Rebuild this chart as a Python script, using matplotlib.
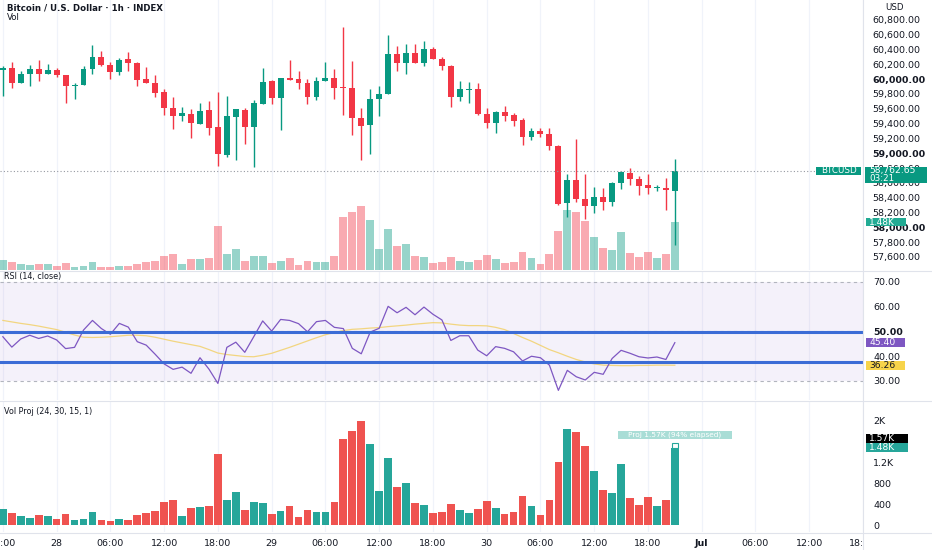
import numpy as np
import pandas as pd
import matplotlib
matplotlib.use("Agg")
import matplotlib.pyplot as plt
from matplotlib.patches import Rectangle
from matplotlib.transforms import IdentityTransform, Bbox

# BTC / USD hourly candles, 27 Jun 18:00 -> 30 Jun 21:00
opens = [60120, 60151, 59944, 60070, 60142, 60075, 60129, 60057, 59903, 59926,
         60142, 60295, 60187, 60097, 60268, 60223, 60003, 59949, 59822, 59611,
         59507, 59530, 59399, 59579, 59358, 58980, 59494, 59579, 59358, 59669,
         59971, 59750, 60021, 60003, 59949, 59755, 59980, 60012, 59885, 59881,
         59476, 59376, 59728, 59795, 60336, 60214, 60349, 60214, 60408, 60273,
         60178, 59759, 59854, 59867, 59534, 59404, 59561, 59512, 59449, 59223,
         59300, 59255, 59102, 58332, 58638, 58381, 58291, 58408, 58345, 58597,
         58732, 58656, 58570, 58530, 58530, 58494]
highs = [60178, 60237, 60111, 60192, 60255, 60205, 60147, 60061, 59944, 60183,
         60466, 60385, 60232, 60282, 60372, 60237, 60169, 60052, 59863, 59764,
         59624, 59597, 59683, 59710, 59827, 59768, 59602, 59606, 59719, 60147,
         59989, 60021, 60255, 60106, 60003, 60025, 60237, 60142, 60710, 60246,
         59611, 59863, 59908, 60602, 60444, 60480, 60480, 60512, 60435, 60304,
         60192, 59976, 59967, 59953, 59606, 59570, 59638, 59548, 59471, 59340,
         59340, 59336, 59111, 58719, 59192, 58719, 58548, 58525, 58611, 58755,
         58795, 58692, 58719, 58570, 58660, 58922]
lows = [59777, 59876, 59944, 59912, 59980, 60075, 60025, 59683, 59732, 59926,
        60070, 60174, 60003, 60052, 60115, 59912, 59949, 59755, 59516, 59327,
        59431, 59201, 59399, 59250, 58832, 58944, 58913, 59129, 58818, 59669,
        59669, 59313, 59989, 59863, 59665, 59719, 59980, 59728, 59521, 59250,
        58913, 58994, 59498, 59795, 60111, 60075, 60214, 60183, 60273, 60124,
        59620, 59705, 59674, 59521, 59345, 59277, 59440, 59372, 59115, 59174,
        59223, 59043, 58305, 58142, 58345, 58115, 58187, 58237, 58287, 58516,
        58570, 58435, 58449, 58485, 58237, 57760]
closes = [60156, 59953, 60070, 60138, 60075, 60129, 60052, 59903, 59921, 60142,
          60295, 60187, 60097, 60259, 60219, 59994, 59949, 59813, 59606, 59503,
          59539, 59404, 59570, 59345, 58989, 59498, 59593, 59358, 59674, 59962,
          59746, 60016, 59989, 59944, 59755, 59980, 60012, 59881, 59876, 59480,
          59372, 59732, 59800, 60336, 60214, 60349, 60214, 60408, 60273, 60174,
          59759, 59863, 59867, 59530, 59404, 59557, 59507, 59440, 59223, 59300,
          59259, 59102, 58314, 58638, 58386, 58287, 58408, 58345, 58602, 58746,
          58656, 58561, 58530, 58539, 58498, 58762.65]
volumes = [305, 235, 178, 146, 197, 171, 121, 216, 102, 127,
           248, 102, 89, 121, 108, 190, 235, 267, 444, 483,
           178, 337, 349, 368, 1359, 489, 635, 292, 438, 432,
           210, 273, 368, 152, 292, 254, 254, 444, 1638, 1797,
           1988, 1549, 648, 1276, 730, 806, 432, 394, 229, 254,
           413, 286, 238, 305, 464, 337, 210, 248, 552, 375,
           197, 483, 1207, 1835, 1778, 1511, 1029, 667, 616, 1168,
           521, 394, 540, 362, 483, 1480]
rsi = [47.8, 43.6, 46.9, 48.4, 47.1, 48.1, 46.5, 43.0, 43.5, 50.5,
       54.4, 51.1, 48.8, 53.2, 51.7, 45.8, 44.4, 40.7, 36.8, 34.6,
       35.5, 33.0, 39.3, 34.7, 28.9, 43.5, 45.6, 41.5, 47.8, 54.2,
       50.1, 54.8, 54.4, 53.1, 49.8, 53.9, 54.4, 51.6, 51.1, 43.1,
       40.9, 49.7, 51.2, 60.1, 57.5, 59.7, 56.7, 59.8, 56.9, 54.6,
       46.3, 48.2, 48.2, 42.4, 40.1, 43.8, 43.1, 41.7, 38.0, 39.9,
       39.3, 36.3, 26.1, 34.2, 31.6, 30.3, 33.4, 32.6, 39.0, 42.3,
       41.1, 39.7, 39.2, 39.6, 38.6, 45.4]
rsi_ma = [54.4, 53.8, 53.2, 52.7, 52.1, 51.4, 50.7, 49.6, 48.5, 47.6,
          47.5, 47.6, 47.8, 48.1, 48.4, 48.4, 48.2, 47.6, 46.8, 46.0,
          45.3, 44.6, 43.9, 42.6, 41.2, 40.6, 40.2, 39.8, 39.7, 40.3,
          41.1, 42.3, 43.5, 44.8, 46.1, 47.4, 48.6, 49.5, 50.3, 50.8,
          51.0, 51.3, 51.5, 51.9, 52.2, 52.5, 52.9, 53.2, 53.5, 53.4,
          52.9, 52.5, 52.3, 52.3, 52.2, 51.6, 50.7, 49.1, 47.5, 46.0,
          44.3, 42.6, 41.3, 39.9, 38.6, 37.6, 36.8, 36.3, 36.2, 36.1,
          36.1, 36.2, 36.2, 36.3, 36.3, 36.26]
rsi_hlines = [49.7, 37.6]          # user-drawn horizontal lines
proj_volume = 1570
proj_label = "Proj 1.57K (94% elapsed)"

price_ticks = list(range(57600, 60801, 200))
bold_prices = [58000, 59000, 60000]
rsi_ticks = [30, 40, 50, 60, 70]
vol_ticks = [0, 400, 800, 1200, 2000]
vol_tick_labels = ["0", "400", "800", "1.2K", "2K"]
time_labels = ["18:00", "28", "06:00", "12:00", "18:00", "29", "06:00", "12:00",
               "18:00", "30", "06:00", "12:00", "18:00", "Jul", "06:00", "12:00", "18:00"]

UP, DOWN = "#089981", "#F23645"
VUP, VDOWN = "#26A69A", "#EF5350"
TXT = "#131722"
GRID = "#F0F3FA"
SEP = "#E0E3EB"

W, H = 932, 550
AX_R = 863  # right edge of the panes (pixels)


def rect(x0, y0, x1, y1):
    return [x0 / W, 1 - y1 / H, (x1 - x0) / W, (y1 - y0) / H]


times = pd.date_range("2024-06-27 18:00", periods=len(closes), freq="h")
hours = ((times - pd.Timestamp("2024-06-28")) / pd.Timedelta(hours=1)).to_numpy()
o, h, l, c = map(np.array, (opens, highs, lows, closes))
up = c >= o
grid_hours = np.arange(-6, 91, 6)
XL = (-6.32, 89.9)

fig = plt.figure(figsize=(W / 100, H / 100), dpi=100)
fig.patch.set_facecolor("white")

ax_pv = fig.add_axes(rect(0, 0, AX_R, 270), zorder=1)
ax_p = fig.add_axes(rect(0, 0, AX_R, 270), zorder=2, sharex=ax_pv)
ax_r = fig.add_axes(rect(0, 271, AX_R, 400), sharex=ax_pv)
ax_v = fig.add_axes(rect(0, 401, AX_R, 532), sharex=ax_pv)
ax_p.patch.set_alpha(0)

for ax in (ax_pv, ax_p, ax_r, ax_v):
    for s in ax.spines.values():
        s.set_visible(False)
    ax.set_xlim(*XL)
    ax.tick_params(axis="x", length=0, labelbottom=False)
    ax.tick_params(axis="y", length=0)
for ax in (ax_pv, ax_r, ax_v):
    ax.set_xticks(grid_hours)
    ax.grid(axis="x", color=GRID, lw=0.9)
    ax.set_axisbelow(True)

# --- price pane: volume overlay
vcols = [(0.031, 0.6, 0.506, 0.42) if u else (0.949, 0.212, 0.271, 0.42) for u in up]
ax_pv.bar(hours, volumes, width=0.88, color=vcols)
ax_pv.set_ylim(0, 8326)
ax_pv.set_yticks([])

# --- candles
cols = [UP if u else DOWN for u in up]
ax_p.vlines(hours, l, h, colors=cols, lw=1)
body_lo = np.minimum(o, c)
body_h = np.maximum(np.abs(c - o), 14)
ax_p.bar(hours, body_h, bottom=body_lo, width=0.66, color=cols)
ax_p.set_ylim(57422, 61070)
ax_p.axhline(closes[-1], xmax=816 / AX_R, color="#9598A1", ls=(0, (1, 2)), lw=0.8)
ax_p.yaxis.tick_right()
ax_p.set_yticks(price_ticks, labels=[f"{v:,.2f}" for v in price_ticks])
ax_p.tick_params(axis="y", pad=6.5, labelsize=6.8, labelcolor=TXT)
for lbl, v in zip(ax_p.get_yticklabels(), price_ticks):
    if v in bold_prices:
        lbl.set_fontweight("bold")

# --- RSI pane
ax_r.axhspan(30, 70, color="#7E57C2", alpha=0.08, lw=0)
for lev in (70, 50, 30):
    ax_r.axhline(lev, color="#B2B5BE", ls=(0, (3, 3)), lw=0.8)
ax_r.plot(hours, rsi_ma, color="#F2D16B", lw=0.9, alpha=0.85)
ax_r.plot(hours, rsi, color="#7E57C2", lw=0.9)
for lev in rsi_hlines:
    ax_r.axhline(lev, color="#3B6CD6", lw=2.2)
ax_r.set_ylim(22.2, 74.4)
ax_r.yaxis.tick_right()
ax_r.set_yticks(rsi_ticks, labels=[f"{v:.2f}" for v in rsi_ticks])
ax_r.tick_params(axis="y", pad=7.5, labelsize=6.8, labelcolor=TXT)
for lbl, v in zip(ax_r.get_yticklabels(), rsi_ticks):
    if v == 50:
        lbl.set_fontweight("bold")

# --- Vol Proj pane
ax_v.bar(hours, volumes, width=0.86, color=[VUP if u else VDOWN for u in up])
ax_v.bar(hours[-1], proj_volume - volumes[-1], bottom=volumes[-1], width=0.6,
         facecolor="white", edgecolor=VUP, lw=0.8)
ax_v.set_ylim(-128, 2368)
ax_v.yaxis.tick_right()
ax_v.set_yticks(vol_ticks, labels=vol_tick_labels)
ax_v.tick_params(axis="y", pad=7.5, labelsize=6.8, labelcolor=TXT)

# --- separators
for y in (270.5, 400.5, 532.5):
    fig.add_artist(plt.Line2D([0, 1], [1 - y / H] * 2, color=SEP, lw=0.8, zorder=5))
fig.add_artist(plt.Line2D([AX_R / W] * 2, [0, 1], color=SEP, lw=0.8, zorder=5))

ID = IdentityTransform()


def ydisp(ax, val):
    return ax.transData.transform((0, val))[1]


def tag(x0, x1, yc, hgt, fc, text, tc="white", size=6.5, weight="normal", ha="left", tx=None):
    fig.add_artist(Rectangle((x0, yc - hgt / 2), x1 - x0, hgt, transform=ID,
                             facecolor=fc, edgecolor="none", zorder=10))
    if tx is None:
        tx = x0 + 3 if ha == "left" else (x0 + x1) / 2
    fig.text(tx, yc, text, transform=ID, ha=ha, va="center", color=tc,
             size=size, weight=weight, zorder=11)


# price tags
yc = ydisp(ax_p, closes[-1])
fig.add_artist(Rectangle((865, yc - 12), 62, 16, transform=ID,
                         facecolor=UP, edgecolor="none", zorder=10))
fig.text(869, yc, f"{closes[-1]:,.2f}", transform=ID, va="center", color="white", size=6.6, zorder=11)
fig.text(869, yc - 7.5, "03:21", transform=ID, va="center", color="white", size=6.3, zorder=11)
tag(816, 861, yc, 8.5, UP, "BTCUSD", size=6.3, ha="center")
tag(866, 906, ydisp(ax_pv, volumes[-1]), 8, "#22AB94", "1.48K", size=6.5)

# RSI tags
tag(866, 905, ydisp(ax_r, rsi[-1]), 9, "#7E57C2", f"{rsi[-1]:.2f}", size=6.6)
tag(866, 905, ydisp(ax_r, rsi_ma[-1]), 9, "#F7D44A", f"{rsi_ma[-1]:.2f}", tc=TXT, size=6.6)

# Vol Proj tags
y148 = ydisp(ax_v, volumes[-1])
tag(866, 908, y148, 9, VUP, "1.48K", size=6.6)
tag(866, 908, y148 + 9.5, 9, "black", "1.57K", size=6.6)
xp = ax_v.transData.transform((hours[-1], 0))[0]
yp = ydisp(ax_v, proj_volume)
fig.add_artist(Rectangle((xp - 57, yp + 4), 114, 8, transform=ID,
                         facecolor="#A9DDD6", edgecolor="none", zorder=10))
fig.text(xp, yp + 8, proj_label, transform=ID, ha="center", va="center",
         color="white", size=5.3, zorder=11)

# time axis labels
clip = Bbox([[0, 0], [AX_R - 1, H]])
for hr, lab in zip(grid_hours, time_labels):
    xd = ax_v.transData.transform((hr, 0))[0]
    t = fig.text(xd, H - 543, lab, transform=ID, ha="center", va="center", color=TXT,
                 size=6.8, weight="bold" if lab == "Jul" else "normal")
    t.set_clip_box(clip)
    t.set_clip_on(True)

# titles
fig.text(7 / W, 1 - 8 / H, "Bitcoin / U.S. Dollar · 1h · INDEX", ha="left", va="center",
         size=6.2, weight="bold", color=TXT)
fig.text(7 / W, 1 - 17 / H, "Vol", ha="left", va="center", size=6.2, color=TXT)
fig.text(4 / W, 1 - 276 / H, "RSI (14, close)", ha="left", va="center", size=5.8, color=TXT)
fig.text(4 / W, 1 - 411 / H, "Vol Proj (24, 30, 15, 1)", ha="left", va="center", size=5.8, color=TXT)
fig.text(885 / W, 1 - 8 / H, "USD", ha="left", va="center", size=6.2, color=TXT)

fig.savefig("out.png", dpi=100)
